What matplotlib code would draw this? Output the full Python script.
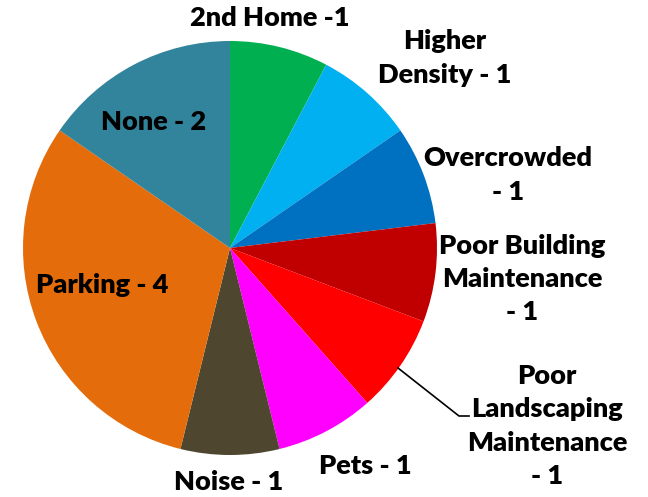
import matplotlib
matplotlib.use("Agg")
import matplotlib.pyplot as plt

labels = ["2nd Home -1", "Higher\nDensity - 1", "Overcrowded\n- 1",
          "Poor Building\nMaintenance\n- 1", "Poor\nLandscaping\nMaintenance\n- 1",
          "Pets - 1", "Noise - 1", "Parking - 4", "None - 2"]
values = [1, 1, 1, 1, 1, 1, 1, 4, 2]
colors = ["#00B050", "#00B0F0", "#0070C0", "#C00000", "#FF0000",
          "#FF00FF", "#4F4630", "#E46C0A", "#31849B"]
# label centre positions in pixels (x, y from top)
label_px = [(270, 18), (445, 58), (508, 175), (522, 279), (547, 426),
            (365, 466), (229, 482), (102, 285), (154, 122)]

W, H = 648, 497
cx, cy, R = 230, 248, 207
fig = plt.figure(figsize=(W/100, H/100), dpi=100)
ax = fig.add_axes([(cx-R)/W, (H-cy-R)/H, 2*R/W, 2*R/H])
ax.pie(values, colors=colors, startangle=90, counterclock=False, radius=1,
       wedgeprops=dict(linewidth=0))
ax.set_xlim(-1, 1)
ax.set_ylim(-1, 1)
ax.set_aspect("equal")
ax.axis("off")

def to_data(px, py):
    return (px-cx)/R, (cy-py)/R

for lab, (px, py) in zip(labels, label_px):
    x, y = to_data(px, py)
    ax.text(x, y, lab, ha="center", va="center", fontsize=19.5, fontweight="heavy",
            family="Lato", linespacing=1.47, clip_on=False)

pts = [to_data(398, 368), to_data(459, 416), to_data(469, 416)]
ax.plot([p[0] for p in pts], [p[1] for p in pts], color="black", lw=1.2, clip_on=False)

fig.savefig("out.png", dpi=100)
